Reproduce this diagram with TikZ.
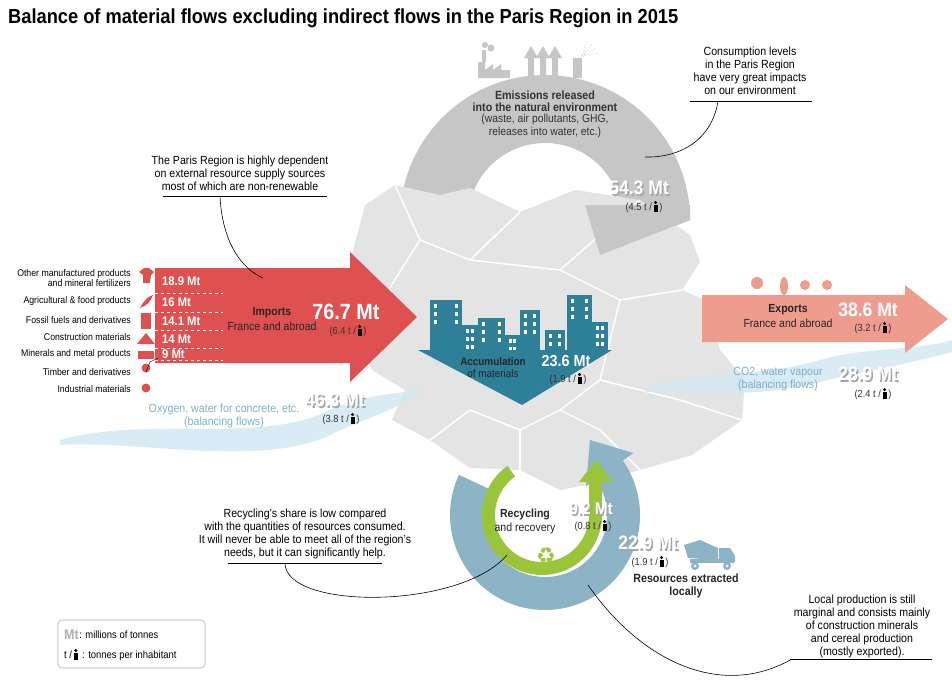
\documentclass[tikz,border=0pt]{standalone}
\usepackage{fontspec}
\setmainfont{Liberation Sans}[FakeStretch=0.9]
\newfontfamily\djv{DejaVu Sans}
\definecolor{impred}{HTML}{DF5150}
\definecolor{expsal}{HTML}{EE9C8E}
\definecolor{teal}{HTML}{2E7F98}
\definecolor{ringgray}{HTML}{C6C6C6}
\definecolor{mapgray}{HTML}{E4E4E4}
\definecolor{recblue}{HTML}{8DB3C7}
\definecolor{recgreen}{HTML}{9AC53A}
\definecolor{water}{HTML}{D3E9F5}
\definecolor{watertxt}{HTML}{7FAFCB}
\newcommand\pp{\tikz[baseline=0pt]{\fill[black] (0pt,8.4pt) circle[radius=1.7pt]; \fill[black] (-2pt,-1.5pt) rectangle (2pt,6.4pt);}}
\begin{document}
\begin{tikzpicture}[x=1pt,y=-1pt,
  smr/.style={font=\fontsize{9.7}{10}\selectfont,anchor=east,inner sep=0},
  big/.style={font=\fontsize{19.5}{19.5}\bfseries\selectfont,text=white,inner sep=0},
  shd/.style={big,text=black!35},
  mid/.style={font=\fontsize{12.5}{12.5}\bfseries\selectfont,text=white,anchor=west,inner sep=0},
  stat/.style={font=\fontsize{10.3}{10}\selectfont,inner sep=0,text=black!80},
  lbl/.style={font=\fontsize{11.7}{12}\selectfont,inner sep=0,text=black!85},
  lblb/.style={font=\fontsize{11.7}{12}\bfseries\selectfont,inner sep=0,text=black!85},
  note/.style={font=\fontsize{11.8}{13}\selectfont,align=center,inner sep=0},
  uline/.style={black,line width=0.5pt},
  curve/.style={black,line width=0.6pt},
  wtxt/.style={font=\fontsize{11.8}{13}\selectfont,align=center,inner sep=0,text=watertxt}]
\useasboundingbox (0,0) rectangle (952,691);
\fill[white] (0,0) rectangle (952,691);
% title
\node[anchor=west,inner sep=0,font=\fontsize{20.3}{20}\bfseries\selectfont] (title) at (8,18) {Balance of material flows excluding indirect flows in the Paris Region in 2015};
% gray emissions ring
\fill[ringgray] ([shift={(545,220)}]170:145) arc[start angle=170,end angle=360,radius=145] -- (600,255) -- (585,205) -- ([shift={(545,220)}]355:77) arc[start angle=355,end angle=170,radius=77] -- cycle;
% factory icons
\fill[ringgray] (478,78) -- (478,62) -- (485,62) -- (485,70) -- (493,64) -- (493,70) -- (501,64) -- (501,70) -- (510,70) -- (510,78) -- cycle;
\fill[ringgray] (482,62) rectangle (486,50);
\fill[ringgray] (485,45) circle[radius=3] (491,48) circle[radius=3.5];
\foreach \xx in {528,540,552}{\fill[ringgray] (\xx,76) -- (\xx,58) -- (\xx-4,58) -- (\xx+3,46) -- (\xx+10,58) -- (\xx+6,58) -- (\xx+6,76) -- cycle;}
\fill[ringgray] (573,78) rectangle (582,58);
\foreach \a in {-70,-50,-30,-10}{\draw[ringgray,dotted,line width=0.8pt] (582,56) -- ++(\a:16);}
% map
\fill[mapgray] (365,205) -- (395,185) -- (440,195) -- (470,188) -- (520,212) -- (575,190) -- (640,200) -- (690,235) -- (700,262) -- (682,290) -- (705,300) -- (720,350) -- (745,380) -- (742,420) -- (692,455) -- (640,470) -- (600,482) -- (560,490) -- (520,470) -- (470,468) -- (430,440) -- (392,420) -- (405,390) -- (372,370) -- (352,330) -- (382,300) -- (350,262) -- cycle;
\draw[white,line width=1.5pt] (430,440) -- (470,410) -- (520,430) -- (560,410) -- (600,430) -- (640,470);
\draw[white,line width=1.5pt] (520,430) -- (520,470);
\draw[white,line width=1.5pt] (560,410) -- (600,380) -- (680,400) -- (742,420);
\draw[white,line width=1.5pt] (395,185) -- (420,240) -- (470,260) -- (520,212);
\draw[white,line width=1.5pt] (470,260) -- (560,270) -- (640,200);
\draw[white,line width=1.5pt] (560,270) -- (620,300) -- (682,290);
\draw[white,line width=1.5pt] (382,300) -- (420,240);
\draw[white,line width=1.5pt] (620,300) -- (600,380);
% emission arrow head over map
\fill[ringgray] (690,205) -- (690,220) -- (600,255) -- (585,205) -- (622,205) -- cycle;
% water bands
\fill[water,opacity=0.85] (60,440) .. controls (150,415) and (260,445) .. (330,410) .. controls (370,392) and (400,395) .. (425,388) .. controls (400,410) and (360,420) .. (330,435) .. controls (260,468) and (140,440) .. (60,445) -- cycle;
\fill[water,opacity=0.85] (645,388) .. controls (700,370) and (760,378) .. (820,360) .. controls (870,346) and (910,352) .. (952,340) -- (952,352) .. controls (900,366) and (860,372) .. (820,382) .. controls (760,398) and (700,392) .. (645,392) -- cycle;
% recycling rings
\fill[recblue] ([shift={(545,515)}]205:95) arc[start angle=205,end angle=-35,radius=95] -- ([shift={(545,515)}]-35:108) -- (590,440) -- ([shift={(545,515)}]-35:50) -- ([shift={(545,515)}]-35:62) arc[start angle=-35,end angle=205,radius=62] -- cycle;
\fill[recgreen] ([shift={(542,515)}]235:60) arc[start angle=235,end angle=0,radius=60] -- (602,482) -- (613,482) -- (596,460) -- (579,482) -- (589,482) -- ([shift={(542,515)}]0:47) arc[start angle=0,end angle=235,radius=47] -- cycle;
% imports arrow
\fill[impred] (155,268) -- (350,268) -- (350,252) -- (417,317) -- (350,382) -- (350,363) -- (155,363) -- cycle;
\foreach \yy in {293,312,330,348,360}{\draw[white,dashed,line width=0.5pt] (155,\yy) -- (223,\yy);}
\node[mid] (v1) at (162,281) {18.9 Mt};
\node[mid] (v2) at (162,302) {16 Mt};
\node[mid] (v3) at (162,321) {14.1 Mt};
\node[mid] (v4) at (162,339) {14 Mt};
\node[mid] (v5) at (162,354) {9 Mt};
\node[smr,align=right,font=\fontsize{9.7}{9}\selectfont] (l1) at (131,278) {Other manufactured products\\and mineral fertilizers};
\node[smr] (l2) at (131,301) {Agricultural \& food products};
\node[smr] (l3) at (131,320) {Fossil fuels and derivatives};
\node[smr] (l4) at (131,337) {Construction materials};
\node[smr] (l5) at (131,354) {Minerals and metal products};
\node[smr] (l6) at (131,372) {Timber and derivatives};
\node[smr] (l7) at (131,389) {Industrial materials};
% import icons
\fill[impred] (139,272) -- (144,268) -- (149,268) -- (154,272) -- (151,275) -- (150,283) -- (143,283) -- (143,275) -- cycle;
\fill[impred] (140,308) .. controls (145,298) and (150,296) .. (153,295) .. controls (151,302) and (146,306) .. (140,308) -- cycle;
\fill[impred] (141,313) rectangle (151,329);
\fill[impred] (137,344) -- (146,333) -- (155,344) -- cycle;
\fill[impred] (138,351) rectangle (154,359);
\fill[impred] (146,368) circle[radius=4.5];
\fill[impred] (146,388) circle[radius=4.5];
\draw[black,line width=0.4pt] (146,372) -- (150,362) -- (158,358);
\node[lblb] (imp) at (272,313) {Imports};
\node[lbl] (impf) at (272,326) {France and abroad};
\node[big,font=\fontsize{22}{22}\bfseries\selectfont] (impv) at (346,312) {76.7 Mt};
\node[stat] (imps) at (348,331) {(6.4 t /\,\pp\,)};
% accumulation
\foreach \a/\b/\c/\d in {430/300/462/350, 462/325/478/350, 478/318/505/350, 505/335/520/350, 520/310/540/350, 545/330/565/350, 567/295/592/350, 592/322/608/350}{\fill[teal] (\a,\b) rectangle (\c,\d);
  \foreach \wy in {4,12,20}{\fill[white] (\a+4,\b+\wy) rectangle (\a+7,\b+\wy+4); \fill[white] (\c-7,\b+\wy) rectangle (\c-4,\b+\wy+4);}}
\fill[teal] (418,350) -- (612,350) -- (522,405) -- cycle;
\node[lblb,font=\fontsize{11}{11}\bfseries\selectfont] (acc) at (493,362) {Accumulation};
\node[lbl,font=\fontsize{11}{11}\selectfont] (accm) at (493,374) {of materials};
\node[big,font=\fontsize{16}{16}\bfseries\selectfont] (accv) at (566,361) {23.6 Mt};
\node[stat] (accs) at (568,379) {(1.9 t /\,\pp\,)};
% exports arrow
\fill[expsal] (702,295) -- (905,295) -- (905,285) -- (948,319) -- (905,353) -- (905,342) -- (702,342) -- cycle;
\fill[expsal] (757,283) circle[radius=6] (784,286) ellipse[x radius=4,y radius=9] (805,285) circle[radius=5] (827,285) circle[radius=5];
\node[lblb] (exp) at (788,310) {Exports};
\node[lbl] (expf) at (788,323) {France and abroad};
\node[big] (expv) at (868,310) {38.6 Mt};
\node[stat] (exps) at (873,328) {(3.2 t /\,\pp\,)};
% balancing flows
\node[wtxt] (oxy) at (224,416) {Oxygen, water for concrete, etc.\\(balancing flows)};
\node[shd] at (336.5,401.5) {46.3 Mt};
\node[big] (oxyv) at (335,400) {46.3 Mt};
\node[stat] (oxys) at (341,419) {(3.8 t /\,\pp\,)};
\node[wtxt] (co2) at (778,379) {CO2, water vapour\\(balancing flows)};
\node[shd] at (869.5,375.5) {28.9 Mt};
\node[big] (co2v) at (868,374) {28.9 Mt};
\node[stat] (co2s) at (873,394) {(2.4 t /\,\pp\,)};
% emissions text
\node[font=\fontsize{11.9}{12.5}\bfseries\selectfont,align=center,inner sep=0,text=black!80] (emi) at (545,101) {Emissions released\\into the natural environment};
\node[font=\fontsize{11.5}{12.5}\selectfont,align=center,inner sep=0,text=black!80] (emid) at (545,126) {(waste, air pollutants, GHG,\\releases into water, etc.)};
\node[shd] at (640.5,189.5) {54.3 Mt};
\node[big] (emiv) at (639,188) {54.3 Mt};
\node[stat] (emis) at (644,207) {(4.5 t /\,\pp\,)};
% recycling text
\node[lblb] (rec) at (525,514) {Recycling};
\node[lbl] (recr) at (525,528) {and recovery};
\node[text=recgreen,font=\djv\fontsize{22}{22}\selectfont,inner sep=0] (recic) at (546,556) {♻};
\node[shd,font=\fontsize{17}{17}\bfseries\selectfont] at (592.5,510.5) {9.2 Mt};
\node[big,font=\fontsize{17}{17}\bfseries\selectfont] (recv) at (591,509) {9.2 Mt};
\node[stat] (recs) at (593,526) {(0.8 t /\,\pp\,)};
\node[shd] at (649.5,544.5) {22.9 Mt};
\node[big] (extv) at (648,543) {22.9 Mt};
\node[stat] (exts) at (650,562) {(1.9 t /\,\pp\,)};
% truck
\fill[recblue] (688,558) -- (684,545) -- (700,540) -- (718,548) -- (718,560) -- cycle;
\fill[recblue] (719,548) -- (730,548) -- (735,556) -- (735,562) -- (719,562) -- cycle;
\fill[recblue] (690,559) rectangle (734,563);
\fill[recblue] (695,566) circle[radius=4] (727,566) circle[radius=4];
\fill[white] (695,566) circle[radius=1.5] (727,566) circle[radius=1.5];
\node[font=\fontsize{11.9}{13}\bfseries\selectfont,align=center,inner sep=0,text=black!85] (res) at (686,586) {Resources extracted\\locally};
% annotations
\node[note] (n1) at (240,173) {The Paris Region is highly dependent\\on external resource supply sources\\most of which are non-renewable};
\draw[uline] (163,196) -- (327,196);
\coordinate (n1s) at (220,196);
\coordinate (n1e) at (263,278);
\draw[curve] (n1s) .. controls (222,240) and (240,268) .. (n1e);
\node[note] (n2) at (750,71) {Consumption levels\\in the Paris Region\\have very great impacts\\on our environment};
\draw[uline] (690,101) -- (812,101);
\coordinate (n2s) at (718,101);
\coordinate (n2e) at (645,157);
\draw[curve] (n2s) .. controls (712,140) and (680,158) .. (n2e);
\node[note] (n3) at (305,534) {Recycling's share is low compared\\with the quantities of resources consumed.\\It will never be able to meet all of the region's\\needs, but it can significantly help.};
\draw[uline] (228,563) -- (382,563);
\coordinate (n3s) at (285,563);
\coordinate (n3e) at (507,555);
\draw[curve] (n3s) .. controls (285,610) and (460,610) .. (n3e);
\node[note] (n4) at (862,626) {Local production is still\\marginal and consists mainly\\of construction minerals\\and cereal production\\(mostly exported).};
\draw[uline] (790,659) -- (932,659);
\coordinate (n4s) at (588,585);
\coordinate (n4e) at (792,659);
\draw[curve] (n4s) .. controls (640,660) and (720,700) .. (n4e);
% legend
\draw[gray!60,rounded corners=4pt,line width=0.6pt] (58,620) rectangle (205,668);
\node[anchor=west,inner sep=0,font=\fontsize{14}{14}\bfseries\selectfont,text=black!30] (lgmt) at (64,635) {Mt};
\node[anchor=west,inner sep=0,font=\fontsize{10.5}{11}\selectfont] (lgmtt) at (lgmt.east) { : millions of tonnes};
\node[anchor=west,inner sep=0,font=\fontsize{10.5}{11}\selectfont] (lgt) at (64,655) {t /\,\pp\, : tonnes per inhabitant};
\end{tikzpicture}
\end{document}
